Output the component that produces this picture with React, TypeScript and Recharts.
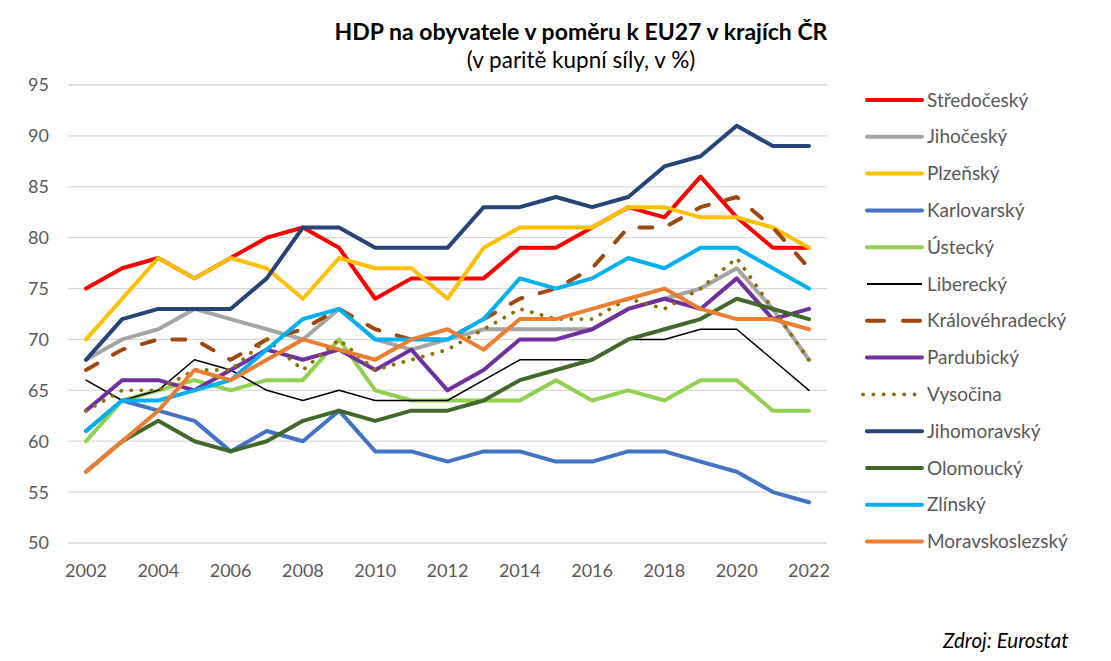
import React from "react";
import { LineChart, Line, XAxis, YAxis, CartesianGrid, Legend } from "recharts";

const years = ["2002","2003","2004","2005","2006","2007","2008","2009","2010","2011","2012","2013","2014","2015","2016","2017","2018","2019","2020","2021","2022"];
const yTicks = [50, 55, 60, 65, 70, 75, 80, 85, 90, 95];

const stredocesky = [75,77,78,76,78,80,81,79,74,76,76,76,79,79,81,83,82,86,82,79,79];
const jihocesky = [68,70,71,73,72,71,70,73,70,69,70,71,71,71,71,73,74,75,77,73,68];
const plzensky = [70,74,78,76,78,77,74,78,77,77,74,79,81,81,81,83,83,82,82,81,79];
const karlovarsky = [61,64,63,62,59,61,60,63,59,59,58,59,59,58,58,59,59,58,57,55,54];
const ustecky = [60,64,65,66,65,66,66,70,65,64,64,64,64,66,64,65,64,66,66,63,63];
const liberecky = [66,64,65,68,67,65,64,65,64,64,64,66,68,68,68,70,70,71,71,68,65];
const kralovehradecky = [67,69,70,70,68,70,71,73,71,70,70,72,74,75,77,81,81,83,84,81,77];
const pardubicky = [63,66,66,65,67,69,68,69,67,69,65,67,70,70,71,73,74,73,76,72,73];
const vysocina = [63,65,65,67,67,70,67,70,67,68,69,71,73,72,72,74,73,75,78,73,68];
const jihomoravsky = [68,72,73,73,73,76,81,81,79,79,79,83,83,84,83,84,87,88,91,89,89];
const olomoucky = [57,60,62,60,59,60,62,63,62,63,63,64,66,67,68,70,71,72,74,73,72];
const zlinsky = [61,64,64,65,66,69,72,73,70,70,70,72,76,75,76,78,77,79,79,77,75];
const moravskoslezsky = [57,60,63,67,66,68,70,69,68,70,71,69,72,72,73,74,75,73,72,72,71];

type S = { key: string; name: string; values: number[]; color: string; width: number; dash?: string };

const series: S[] = [
  { key: "s1", name: "Středočeský", values: stredocesky, color: "#FF0000", width: 4 },
  { key: "s2", name: "Jihočeský", values: jihocesky, color: "#A5A5A5", width: 4 },
  { key: "s3", name: "Plzeňský", values: plzensky, color: "#FFC000", width: 4 },
  { key: "s4", name: "Karlovarský", values: karlovarsky, color: "#4472C4", width: 4 },
  { key: "s5", name: "Ústecký", values: ustecky, color: "#92D050", width: 4 },
  { key: "s6", name: "Liberecký", values: liberecky, color: "#000000", width: 1.5 },
  { key: "s7", name: "Královéhradecký", values: kralovehradecky, color: "#9E480E", width: 4, dash: "13 18" },
  { key: "s8", name: "Pardubický", values: pardubicky, color: "#7030A0", width: 4 },
  { key: "s9", name: "Vysočina", values: vysocina, color: "#8D6E00", width: 3.8, dash: "0.1 10" },
  { key: "s10", name: "Jihomoravský", values: jihomoravsky, color: "#264478", width: 4 },
  { key: "s11", name: "Olomoucký", values: olomoucky, color: "#43682B", width: 4 },
  { key: "s12", name: "Zlínský", values: zlinsky, color: "#00B0F0", width: 4 },
  { key: "s13", name: "Moravskoslezský", values: moravskoslezsky, color: "#ED7D31", width: 4 },
];

const data = years.map((y, i) => {
  const row: Record<string, string | number> = { year: y };
  series.forEach((s) => { row[s.key] = s.values[i]; });
  return row;
});

const FONT = "Lato, 'Open Sans', sans-serif";

const LegendContent = () => (
  <svg width={240} height={490} style={{ display: "block" }}>
    {series.map((s, i) => {
      const cy = 20 + i * 36.8;
      const dotted = s.dash === "0.1 10";
      return (
        <g key={s.key}>
          <line
            x1={dotted ? 9 : 13}
            x2={dotted ? 70 : 68}
            y1={cy}
            y2={cy}
            stroke={s.color}
            strokeWidth={s.width === 1.5 ? 1.8 : s.width}
            strokeLinecap={s.width === 1.5 ? "butt" : "round"}
            strokeDasharray={dotted ? "0.1 10.2" : s.dash ? "17 19" : undefined}
          />
          <text x={73} y={cy + 6.5} fontFamily={FONT} fontSize={19} fill="#595959">{s.name}</text>
        </g>
      );
    })}
  </svg>
);

export default function App() {
  return (
    <div style={{ position: "absolute", left: 0, top: 0, width: 1111, height: 661, background: "#fff", fontFamily: FONT }}>
      <div style={{ position: "absolute", left: 0, width: 1162, top: 18, textAlign: "center", fontWeight: 700, fontSize: 23, color: "#000", lineHeight: "26px" }}>
        HDP na obyvatele v poměru k EU27 v krajích ČR
      </div>
      <div style={{ position: "absolute", left: 0, width: 1162, top: 47, textAlign: "center", fontSize: 22.5, color: "#000", lineHeight: "26px" }}>
        (v paritě kupní síly, v %)
      </div>
      <LineChart width={1111} height={661} data={data} margin={{ top: 85, right: 44, bottom: 88, left: 0 }}>
        <CartesianGrid vertical={false} stroke="#D9D9D9" strokeWidth={1.3} />
        <XAxis
          dataKey="year"
          interval={1}
          padding={{ left: 18, right: 18 }}
          axisLine={false}
          tickLine={false}
          tickSize={0}
          tickMargin={21}
          height={30}
          tick={{ fontFamily: FONT, fontSize: 18, fill: "#595959" }}
        />
        <YAxis
          domain={[50, 95]}
          ticks={yTicks}
          interval={0}
          width={68}
          axisLine={false}
          tickLine={false}
          tickSize={0}
          tickMargin={19}
          tick={{ fontFamily: FONT, fontSize: 18, fill: "#595959" }}
        />
        <Legend
          layout="vertical"
          align="right"
          verticalAlign="top"
          content={() => <LegendContent />}
          wrapperStyle={{ position: "absolute", left: 854, top: 80, width: 240, height: 490 }}
        />
        {series.map((s) => (
          <Line
            key={s.key}
            type="linear"
            dataKey={s.key}
            name={s.name}
            stroke={s.color}
            strokeWidth={s.width}
            strokeDasharray={s.dash}
            strokeLinecap="round"
            strokeLinejoin="round"
            dot={false}
            activeDot={false}
            isAnimationActive={false}
          />
        ))}
      </LineChart>
      <div style={{ position: "absolute", left: 943, top: 628, fontStyle: "italic", fontSize: 20.5, color: "#000", lineHeight: "24px" }}>
        Zdroj: Eurostat
      </div>
    </div>
  );
}
